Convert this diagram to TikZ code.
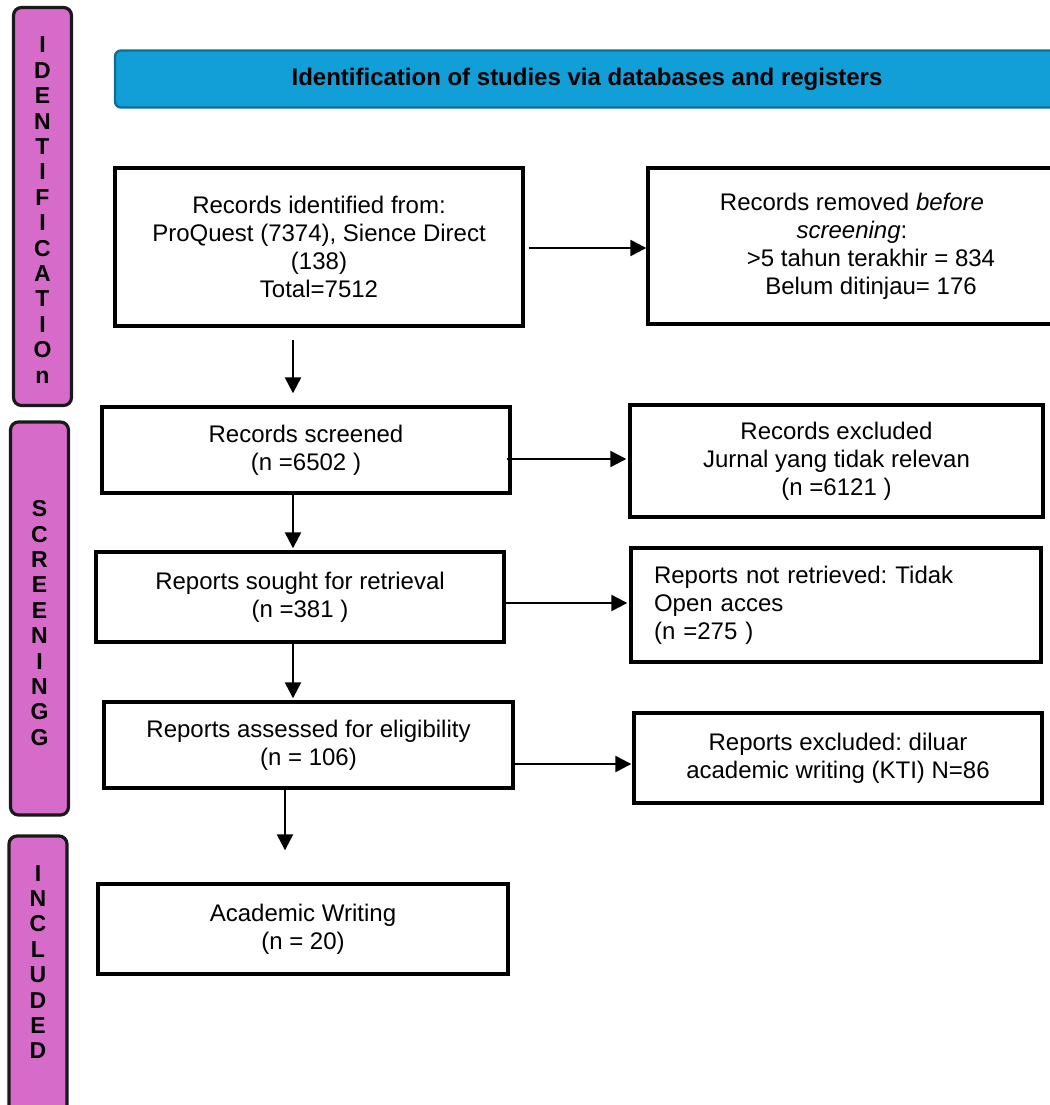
\documentclass[tikz,border=0pt]{standalone}
\usepackage{xcolor}
\usepackage{fontspec}
\setmainfont{Liberation Sans}
\usepackage{tikz}
\definecolor{stagepink}{RGB}{214,107,201}
\definecolor{headblue}{RGB}{18,158,214}
\definecolor{headedge}{RGB}{14,110,152}
\usetikzlibrary{shapes,arrows.meta,positioning,calc}
\frenchspacing

\begin{document}
\begin{tikzpicture}[x=1pt, y=-1pt,
    block/.style={rectangle, draw, line width=3.4pt, minimum width=408pt, align=center, inner sep=4pt, font=\fontsize{24}{28}\selectfont},
    stage/.style={rectangle, draw=black!90, line width=3.2pt, fill=stagepink, rounded corners=8pt, minimum width=58pt},
    letters/.style={align=center, font=\fontsize{23}{25.4}\selectfont\bfseries},
    arrow/.style={-{Triangle[length=16pt,width=16pt]}, line width=2.4pt}
]
    \useasboundingbox (0,0) rectangle (1049,1105);

    % Stage bars
    \node[stage, minimum height=398pt] (idbar) at (42.5,206.5) {};
    \node[letters] (idtxt) at (42.5,210) {I\\D\\E\\N\\T\\I\\F\\I\\C\\A\\T\\I\\O\\n};
    \node[stage, minimum height=393pt] (scbar) at (39.5,618.5) {};
    \node[letters] (sctxt) at (39.5,623) {S\\C\\R\\E\\E\\N\\I\\N\\G\\G};
    \node[stage, minimum height=290pt] (inbar) at (38,981) {};
    \node[letters] (intxt) at (38,962) {I\\N\\C\\L\\U\\D\\E\\D};

    % Header
    \node[rectangle, draw=headedge, line width=2.4pt, fill=headblue, rounded corners=6pt, minimum width=944pt, minimum height=57pt, font=\fontsize{24}{28}\selectfont\bfseries] (head) at (587,79) {Identification of studies via databases and registers};

    % Identification
    \node[block, minimum height=158pt] (ident) at (319,247) {Records identified from:\\ProQuest (7374), Sience Direct\\(138)\\Total=7512};
    \node[block, minimum height=156pt] (removed) at (852,246) {Records removed \textit{before}\\\textit{screening}:\\\hspace*{38pt}>5 tahun terakhir = 834\\\hspace*{38pt}Belum ditinjau= 176};

    % Screening
    \node[block, minimum height=86pt] (screened) at (306,450) {Records screened\\(n =6502 )};
    \node[block, minimum width=413pt, minimum height=112pt] (excluded) at (836.5,461) {Records excluded\\Jurnal yang tidak relevan\\(n =6121 )};
    \node[block, minimum height=90pt] (sought) at (300,597) {Reports sought for retrieval\\(n =381 )};
    \node[block, align=left, text width=364pt, inner xsep=23pt, minimum height=114pt] (notret) at (836,605) {Reports not retrieved: Tidak\\Open acces\\(n =275 )};
    \node[block, minimum width=409pt, minimum height=86pt] (assessed) at (308.5,745) {Reports assessed for eligibility\\(n = 106)};
    \node[block, minimum height=90pt] (repexcl) at (838,758) {Reports excluded: diluar\\academic writing (KTI) N=86};

    % Included
    \node[block, minimum width=410pt, minimum height=90pt] (incl) at (303,929) {Academic Writing\\(n = 20)};

    % Arrows
    \draw[arrow] ($(ident.east)+(4,1)$) -- ($(ident.east -| removed.west)+(0,1)$);
    \draw[arrow] ($(ident.south)+(-26,12)$) -- ($(screened.north)+(-13,-12)$);
    \draw[arrow] ($(screened.east)+(-5,9)$) -- ($(screened.east -| excluded.west)+(-2,9)$);
    \draw[arrow] ($(screened.south)+(-13,0)$) -- ($(sought.north)+(-7,-2)$);
    \draw[arrow] ($(sought.east)+(0,6)$) -- ($(sought.east -| notret.west)+(-2,6)$);
    \draw[arrow] ($(sought.south)+(-7,0)$) -- ($(assessed.north)+(-15.5,-2)$);
    \draw[arrow] ($(assessed.east)+(0,19)$) -- ($(assessed.east -| repexcl.west)+(-1,19)$);
    \draw[arrow] ($(assessed.south)+(-23.5,0)$) -- ($(incl.north)+(-18,-32)$);
\end{tikzpicture}
\end{document}
